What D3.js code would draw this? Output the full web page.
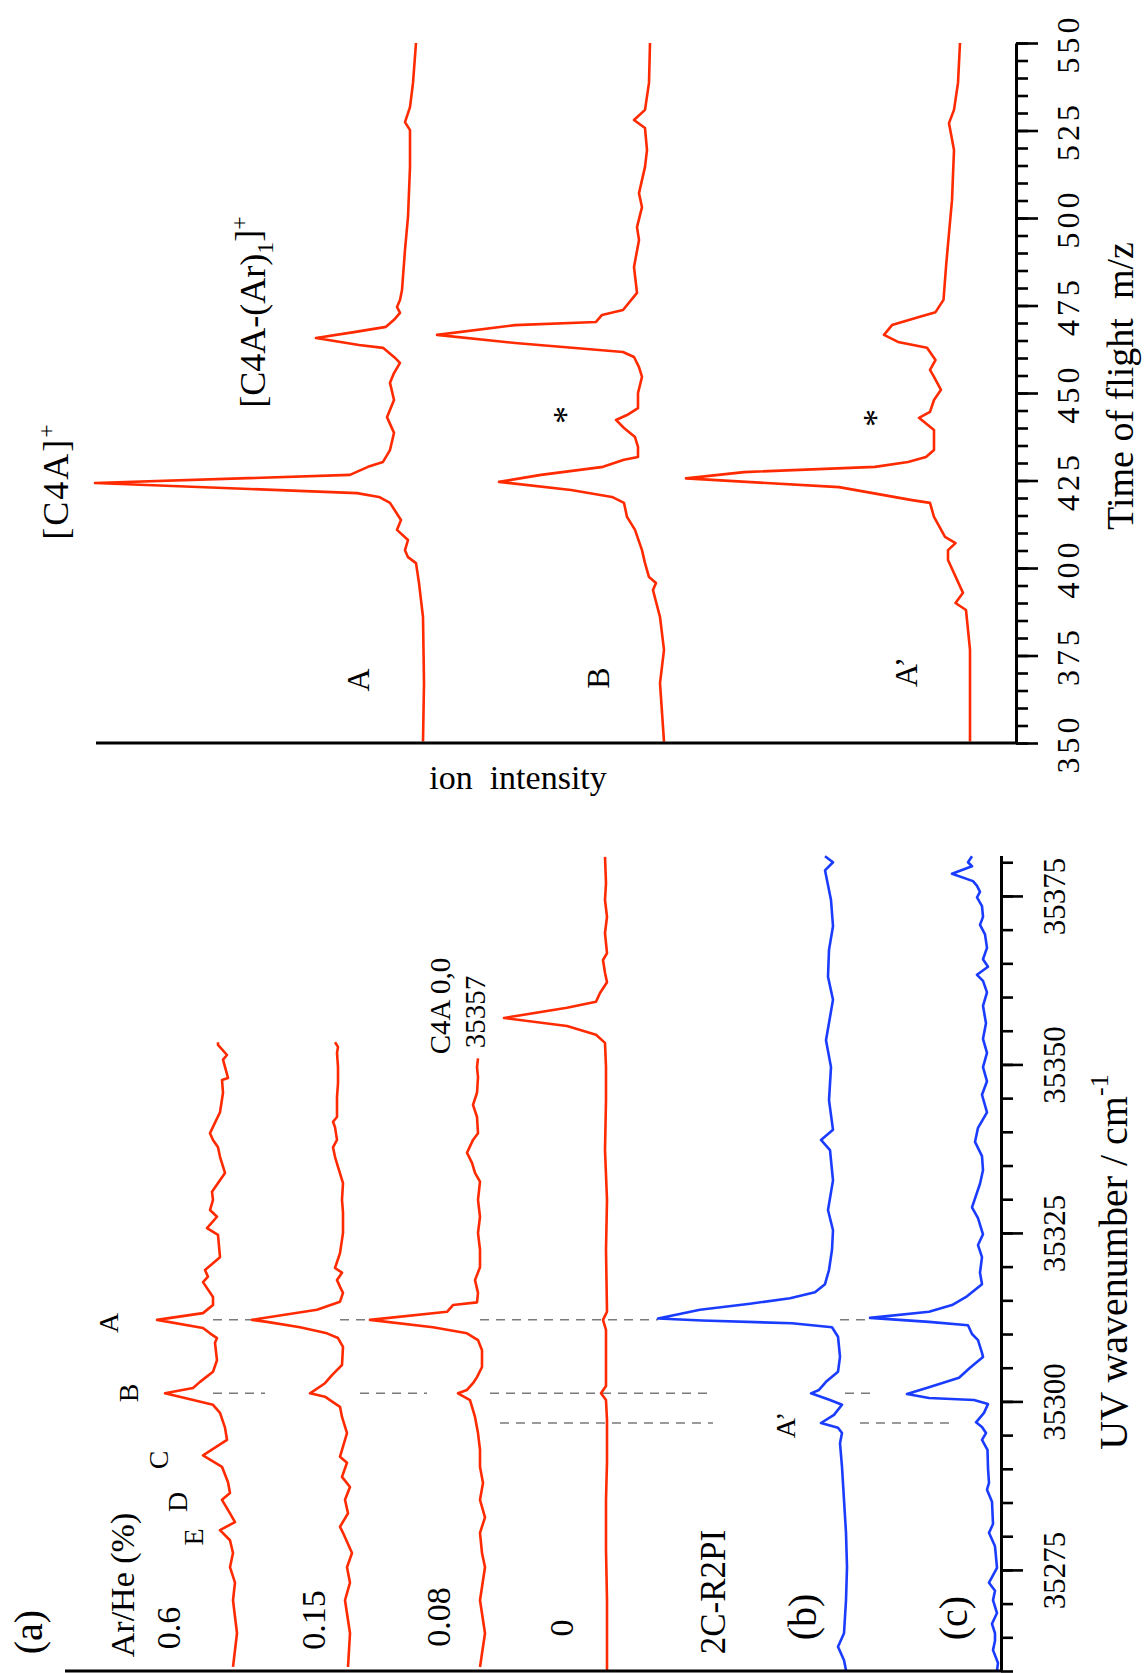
<!DOCTYPE html>
<html><head><meta charset="utf-8">
<script src="https://cdn.jsdelivr.net/npm/d3@7"></script>
<style>
body{margin:0;background:#fff}
svg{display:block}
text{font-family:"Liberation Serif","Times New Roman",serif;fill:#000;white-space:pre}
</style>
</head><body>
<svg id="c" width="1144" height="1673"></svg>
<script>
// ---------------- DATA ----------------
// UV (2C-R2PI / R2PI) spectra: [wavenumber cm^-1, intensity (arb.)]
const uvTrace06 = [[35260.6,76.8],[35265.6,76.4],[35270.5,76.8],[35273.1,76.6],[35275.4,77.1],[35277.5,76.8],[35279.4,77.1],[35280.9,78.1],[35282.1,76.6],[35283.4,77.1],[35285.4,77.9],[35286.4,77.1],[35288.0,77.3],[35290.3,77.9],[35292.0,79.8],[35294.3,77.4],[35296.1,77.6],[35298.3,78.1],[35299.5,78.8],[35301.2,83.6],[35302.0,80.8],[35302.9,80.1],[35304.4,78.8],[35306.1,78.4],[35308.7,78.6],[35309.4,78.4],[35310.1,79.1],[35310.9,79.8],[35312.1,84.4],[35313.1,79.8],[35314.3,78.8],[35315.5,78.8],[35317.7,79.8],[35318.5,79.3],[35319.5,79.6],[35321.4,78.1],[35324.7,78.3],[35325.7,79.4],[35327.4,78.4],[35328.4,79.1],[35329.9,78.8],[35331.1,78.9],[35333.9,77.6],[35336.3,78.1],[35337.7,78.3],[35338.8,78.8],[35339.8,79.1],[35342.9,78.1],[35345.8,77.8],[35347.7,77.9],[35348.0,77.3],[35350.7,77.8],[35351.4,77.4],[35352.9,78.3],[35353.3,78.3]];
const uvTrace015 = [[35260.6,65.3],[35265.6,65.1],[35270.5,65.6],[35273.1,65.1],[35275.4,65.4],[35277.5,64.9],[35280.5,65.8],[35281.4,66.1],[35283.4,65.3],[35285.4,65.6],[35287.3,65.1],[35288.8,65.9],[35290.9,65.4],[35291.8,66.1],[35295.3,65.4],[35297.7,65.9],[35299.2,66.1],[35300.2,67.1],[35300.7,67.6],[35301.2,69.1],[35302.7,67.6],[35303.9,66.9],[35305.4,65.9],[35308.1,65.8],[35309.4,66.3],[35310.1,67.4],[35311.0,70.1],[35311.8,73.4],[35312.1,74.9],[35313.6,68.4],[35314.8,66.1],[35316.1,65.8],[35317.0,66.1],[35318.0,66.4],[35319.1,65.9],[35319.8,66.6],[35322.0,66.1],[35325.0,65.8],[35328.0,65.8],[35329.9,65.9],[35332.4,65.8],[35334.8,66.3],[35336.3,66.6],[35337.7,66.8],[35338.8,66.4],[35340.7,66.6],[35341.5,66.8],[35342.2,66.4],[35345.2,66.4],[35347.2,66.3],[35349.6,66.3],[35351.7,66.4],[35352.6,66.3],[35353.3,66.6]];
const uvTrace008 = [[35260.6,52.1],[35265.6,51.6],[35270.5,52.1],[35275.4,51.6],[35277.5,51.9],[35280.5,52.1],[35282.8,51.6],[35285.4,52.1],[35287.9,51.8],[35290.3,52.1],[35292.8,52.1],[35295.3,52.3],[35297.7,52.6],[35298.7,52.8],[35300.2,53.1],[35301.2,54.3],[35301.7,53.4],[35302.7,52.8],[35303.6,52.4],[35305.1,51.9],[35307.6,51.9],[35309.1,52.3],[35310.1,53.4],[35311.0,56.8],[35312.1,63.1],[35313.3,55.4],[35314.3,54.8],[35314.7,52.4],[35316.1,52.3],[35318.0,52.6],[35319.9,52.1],[35322.5,52.1],[35325.0,52.3],[35327.4,52.1],[35329.9,52.3],[35332.6,52.1],[35333.9,52.6],[35335.4,52.9],[35336.9,53.4],[35338.8,52.8],[35339.8,52.3],[35342.2,52.4],[35344.0,52.8],[35345.8,52.4],[35348.1,52.3],[35349.6,52.4],[35350.9,52.3]];
const uvTrace0 = [[35260.1,39.4],[35270.5,39.4],[35278.0,39.5],[35285.4,39.5],[35291.0,39.4],[35297.2,39.4],[35300.2,39.5],[35301.2,40.0],[35302.3,39.5],[35310.6,39.5],[35312.1,39.8],[35313.3,39.4],[35322.5,39.5],[35329.9,39.4],[35337.3,39.6],[35344.7,39.5],[35349.6,39.5],[35353.2,39.6],[35354.4,40.5],[35355.7,43.4],[35356.9,49.7],[35358.4,43.4],[35359.3,40.5],[35360.6,40.1],[35362.2,39.4],[35363.6,39.6],[35365.5,39.8],[35366.5,39.4],[35369.5,39.6],[35371.9,39.4],[35374.4,39.6],[35376.9,39.5],[35380.8,39.6]];
const uvTraceB = [[35260.1,15.5],[35261.6,15.7],[35263.6,16.3],[35265.6,15.7],[35270.5,15.5],[35275.4,15.4],[35280.5,15.5],[35285.4,15.7],[35290.3,15.9],[35293.8,16.1],[35295.3,15.9],[35296.1,16.3],[35296.8,18.0],[35298.0,16.7],[35299.5,15.9],[35300.2,17.1],[35301.2,19.0],[35301.7,18.2],[35302.9,17.5],[35304.4,16.3],[35306.6,16.1],[35309.6,16.3],[35311.0,16.9],[35311.6,20.9],[35312.0,29.9],[35312.3,34.3],[35313.6,30.1],[35314.5,25.1],[35315.3,21.1],[35316.2,18.6],[35317.4,17.6],[35319.5,17.2],[35322.5,16.9],[35325.4,16.8],[35328.4,17.3],[35332.8,16.8],[35337.3,17.1],[35338.8,18.0],[35340.3,16.8],[35344.7,17.2],[35349.6,17.0],[35353.6,17.5],[35359.6,16.8],[35363.0,17.3],[35367.0,17.2],[35370.5,16.8],[35374.4,17.0],[35378.8,17.6],[35380.0,16.8],[35380.9,17.6]];
const uvTraceC = [[35260.1,0.4],[35261.2,0.3],[35263.1,0.8],[35264.5,0.6],[35265.6,0.6],[35267.0,0.9],[35268.6,0.4],[35270.5,0.8],[35271.9,0.6],[35273.1,1.2],[35275.3,0.4],[35278.5,0.6],[35280.5,1.2],[35281.8,0.8],[35285.1,0.9],[35286.9,1.4],[35287.9,1.2],[35290.1,1.3],[35292.8,1.35],[35294.3,1.9],[35295.3,1.5],[35296.2,1.9],[35296.9,2.5],[35298.3,1.7],[35299.6,1.3],[35300.2,2.7],[35300.5,7.2],[35301.1,9.4],[35302.1,7.2],[35303.5,4.2],[35305.0,3.1],[35306.6,1.8],[35307.2,1.9],[35309.1,2.3],[35310.0,2.9],[35311.3,3.3],[35311.8,7.2],[35312.4,13.1],[35313.3,7.2],[35314.3,4.9],[35315.6,3.4],[35317.4,1.9],[35319.1,2.1],[35321.4,1.9],[35323.2,2.3],[35324.8,1.8],[35327.2,2.3],[35328.8,2.9],[35332.3,2.1],[35334.3,1.8],[35336.4,1.9],[35338.5,2.6],[35340.6,2.3],[35342.9,1.4],[35345.5,1.9],[35347.5,1.4],[35349.6,1.8],[35351.7,1.4],[35353.8,1.8],[35356.1,1.5],[35358.7,1.8],[35360.7,1.4],[35362.4,1.8],[35363.3,2.4],[35364.5,1.3],[35365.6,1.8],[35367.3,1.4],[35369.3,1.6],[35370.7,2.1],[35371.9,1.8],[35373.5,1.9],[35374.8,2.4],[35375.6,2.1],[35376.5,2.4],[35377.2,2.8],[35378.3,4.9],[35379.4,2.9],[35380.0,3.3],[35380.9,2.9]];

// Mass spectra: [m/z, ion intensity (arb.)]
const tofA = [[350.4,59.3],[367.1,59.2],[386.0,59.3],[395.7,59.7],[401.4,60.0],[403.1,60.8],[405.1,61.1],[408.0,60.8],[410.9,61.9],[413.7,61.5],[418.6,62.6],[420.3,63.7],[421.4,65.9],[424.3,92.1],[426.6,66.6],[428.9,64.8],[430.3,63.3],[433.7,62.6],[438.6,62.2],[443.1,62.9],[448.0,62.2],[452.9,62.6],[455.7,62.2],[458.6,61.6],[460.3,62.2],[462.9,63.3],[463.7,65.7],[465.7,70.0],[467.4,66.2],[468.9,63.0],[470.9,62.2],[472.9,61.6],[474.6,61.9],[476.6,61.6],[479.4,61.4],[490.9,61.1],[500.3,60.8],[514.6,60.6],[525.1,60.6],[527.4,61.1],[531.7,60.6],[538.6,60.3],[550.0,60.0]];
const tofB = [[350.4,35.2],[367.1,35.6],[376.6,35.2],[386.0,35.6],[393.7,36.3],[395.7,36.0],[397.4,36.7],[401.4,37.1],[405.1,37.4],[410.9,38.1],[414.6,38.9],[418.6,39.2],[420.3,40.4],[422.3,44.5],[424.6,51.7],[426.6,47.5],[428.9,41.3],[430.9,39.2],[431.7,37.8],[434.6,37.8],[437.4,38.1],[440.0,39.2],[442.3,40.0],[443.7,38.9],[445.7,37.8],[450.0,37.8],[454.6,37.4],[457.4,37.7],[460.3,38.2],[461.7,39.3],[464.3,50.1],[466.6,57.9],[469.4,50.1],[470.3,42.0],[472.3,41.4],[473.7,39.3],[478.6,37.9],[486.0,38.2],[493.7,37.7],[497.4,37.9],[503.1,37.4],[507.1,37.7],[514.6,37.1],[519.4,36.9],[525.7,37.1],[528.0,38.2],[530.9,37.1],[538.6,36.7],[550.0,36.6]];
const tofAp = [[350.4,4.6],[376.6,4.6],[388.0,5.0],[390.0,6.05],[392.9,5.3],[402.3,6.8],[405.1,6.8],[407.1,6.05],[408.9,7.1],[414.6,8.2],[418.6,8.6],[419.4,10.4],[423.1,17.7],[425.6,33.0],[427.4,27.2],[428.9,14.1],[430.3,10.8],[431.7,9.0],[433.7,8.2],[439.4,8.2],[442.9,9.7],[444.6,8.6],[448.0,8.2],[450.9,7.5],[454.6,8.2],[456.6,8.6],[459.4,8.05],[462.9,8.9],[464.6,11.8],[466.6,13.2],[469.4,12.4],[471.7,9.7],[473.1,8.05],[476.6,7.25],[486.0,7.0],[495.7,6.7],[505.1,6.4],[519.4,6.2],[527.1,6.7],[530.9,6.2],[538.6,5.8],[550.0,5.6]];

// Dashed guide lines: wavenumber and intensity spans
const guideWavenumbers = [35312.1, 35301.2, 35296.8];
const guideSpans = [
  [[78.8,74.9],[66.1,63.1],[52.1,34.3],[16.1,13.1]],
  [[78.8,73.6],[64.1,57.4],[51.1,28.8],[15.6,12.9]],
  [[50.1,28.8],[14.1,4.6]]
];

// Tick labels
const uvTickLabels = [35275, 35300, 35325, 35350, 35375];
const tofTickLabels = [350, 375, 400, 425, 450, 475, 500, 525, 550];

// ---------------- DRAW ----------------
const RED = "#ff2a00", BLUE = "#1a3cff";
const FONT = '"Liberation Serif","Times New Roman",serif';
const svg = d3.select("#c");

const yUV = d3.scaleLinear().domain([35260, 35381]).range([1671, 855.5]);
const xUV = d3.scaleLinear().domain([0, 93.6]).range([1001, 65]);
const yTOF = d3.scaleLinear().domain([350, 550]).range([743, 43]);
const xTOF = d3.scaleLinear().domain([0, 92]).range([1016, 96]);

const lineUV = d3.line().x(d => xUV(d[1])).y(d => yUV(d[0]));
const lineTOF = d3.line().x(d => xTOF(d[1])).y(d => yTOF(d[0]));

// Guide dashed lines
guideWavenumbers.forEach((w, i) => {
  guideSpans[i].forEach(s => {
    svg.append("line")
      .attr("x1", xUV(s[0])).attr("x2", xUV(s[1]))
      .attr("y1", yUV(w)).attr("y2", yUV(w))
      .attr("stroke", "#7a7a7a").attr("stroke-width", 1.5)
      .attr("stroke-dasharray", "9,7");
  });
});

// UV traces
[[uvTrace06, RED], [uvTrace015, RED], [uvTrace008, RED], [uvTrace0, RED], [uvTraceB, BLUE], [uvTraceC, BLUE]]
  .forEach(([data, col]) => {
    svg.append("path").datum(data).attr("d", lineUV)
      .attr("fill", "none").attr("stroke", col).attr("stroke-width", 2.6)
      .attr("stroke-linejoin", "round");
  });

// TOF traces
[tofA, tofB, tofAp].forEach(data => {
  svg.append("path").datum(data).attr("d", lineTOF)
    .attr("fill", "none").attr("stroke", RED).attr("stroke-width", 2.6)
    .attr("stroke-linejoin", "round");
});

// Frame lines (intensity axes)
svg.append("line").attr("x1", xUV(93.6)).attr("x2", xUV(0))
  .attr("y1", yUV(35260)).attr("y2", yUV(35260))
  .attr("stroke", "#000").attr("stroke-width", 3);
svg.append("line").attr("x1", xTOF(92)).attr("x2", xTOF(0))
  .attr("y1", yTOF(350)).attr("y2", yTOF(350))
  .attr("stroke", "#000").attr("stroke-width", 3);

function styleAxis(g) {
  g.attr("font-family", FONT);
  g.select(".domain").attr("stroke", "#000").attr("stroke-width", 3);
  g.selectAll(".tick line").attr("stroke", "#000").attr("stroke-width", 2.6);
}

// UV axis
const uvMinor = svg.append("g").attr("transform", `translate(${xUV(0)},0)`)
  .call(d3.axisRight(yUV).tickValues(d3.range(35260, 35381, 5)).tickSize(12).tickSizeOuter(0).tickFormat(""));
styleAxis(uvMinor);
const uvMajor = svg.append("g").attr("transform", `translate(${xUV(0)},0)`)
  .call(d3.axisRight(yUV).tickValues(uvTickLabels).tickSize(22).tickSizeOuter(0).tickFormat(d3.format("d")));
styleAxis(uvMajor);
uvMajor.select(".domain").remove();
uvMajor.selectAll(".tick text")
  .attr("x", null).attr("dy", "0.35em")
  .attr("transform", "translate(53,0) rotate(-90)")
  .attr("text-anchor", "middle")
  .style("font-family", FONT).style("font-size", "31px").attr("fill", "#000");

// TOF axis
const tofMinor = svg.append("g").attr("transform", `translate(${xTOF(0)},0)`)
  .call(d3.axisRight(yTOF).tickValues(d3.range(350, 551, 5)).tickSize(12).tickSizeOuter(0).tickFormat(""));
styleAxis(tofMinor);
const tofMajor = svg.append("g").attr("transform", `translate(${xTOF(0)},0)`)
  .call(d3.axisRight(yTOF).tickValues(tofTickLabels).tickSize(22).tickSizeOuter(0).tickFormat(d3.format("d")));
styleAxis(tofMajor);
tofMajor.select(".domain").remove();
tofMajor.selectAll(".tick text")
  .attr("x", null).attr("dy", "0.35em")
  .attr("transform", "translate(52,0) rotate(-90)")
  .attr("text-anchor", "middle")
  .style("font-family", FONT).style("font-size", "32px")
  .style("letter-spacing", "4px").attr("fill", "#000");

// Rotated text helper
function rtext(x, y, size, parts, spacing) {
  const t = svg.append("text")
    .attr("transform", `translate(${x},${y}) rotate(-90)`)
    .attr("text-anchor", "middle")
    .attr("dy", "0.35em")
    .style("font-family", FONT)
    .style("font-size", size + "px");
  if (spacing) t.style("letter-spacing", spacing + "px");
  if (typeof parts === "string") { t.text(parts); return t; }
  parts.forEach(p => {
    const s = t.append("tspan").text(p.t);
    if (p.dy !== undefined) s.attr("dy", p.dy);
    if (p.fs) s.style("font-size", p.fs + "px");
  });
  return t;
}

// Right panel labels
rtext(55, 481, 36, [{t:"[C4A]"},{t:"+", dy:"-0.55em", fs:24}], 2);
rtext(252, 312, 36, [{t:"[C4A-(Ar)"},{t:"1", dy:"0.35em", fs:24},{t:"]", dy:"-0.35em"},{t:"+", dy:"-0.55em", fs:24}]);
rtext(358, 680, 32, "A");
rtext(598, 678, 32, "B");
rtext(906, 672, 32, "A\u2019");
rtext(565, 415, 36, "*");
rtext(875, 418, 36, "*");
rtext(1120, 386, 38, "Time of flight  m/z");
svg.append("text").attr("x", 518).attr("y", 789).attr("text-anchor", "middle")
  .style("font-family", FONT).style("font-size", "34px").text("ion  intensity");

// Left panel labels
rtext(28, 1632, 40, "(a)");
rtext(122, 1585, 34, "Ar/He (%)");
rtext(168, 1628, 34, "0.6");
rtext(313, 1620, 34, "0.15");
rtext(438, 1617, 34, "0.08");
rtext(561, 1628, 34, "0");
rtext(713, 1592, 35, "2C-R2PI");
rtext(802, 1617, 40, "(b)");
rtext(953, 1618, 40, "(c)");
rtext(108, 1323, 28, "A");
rtext(128, 1393, 28, "B");
rtext(158, 1460, 28, "C");
rtext(177, 1502, 28, "D");
rtext(193, 1537, 28, "E");
rtext(785, 1425, 28, "A\u2019");
rtext(440, 1006, 29, "C4A 0,0");
rtext(475, 1012, 29, "35357");
rtext(1113, 1262, 40, [{t:"UV wavenumber / cm"},{t:"-1", dy:"-0.75em", fs:26}]);
</script>
</body></html>
